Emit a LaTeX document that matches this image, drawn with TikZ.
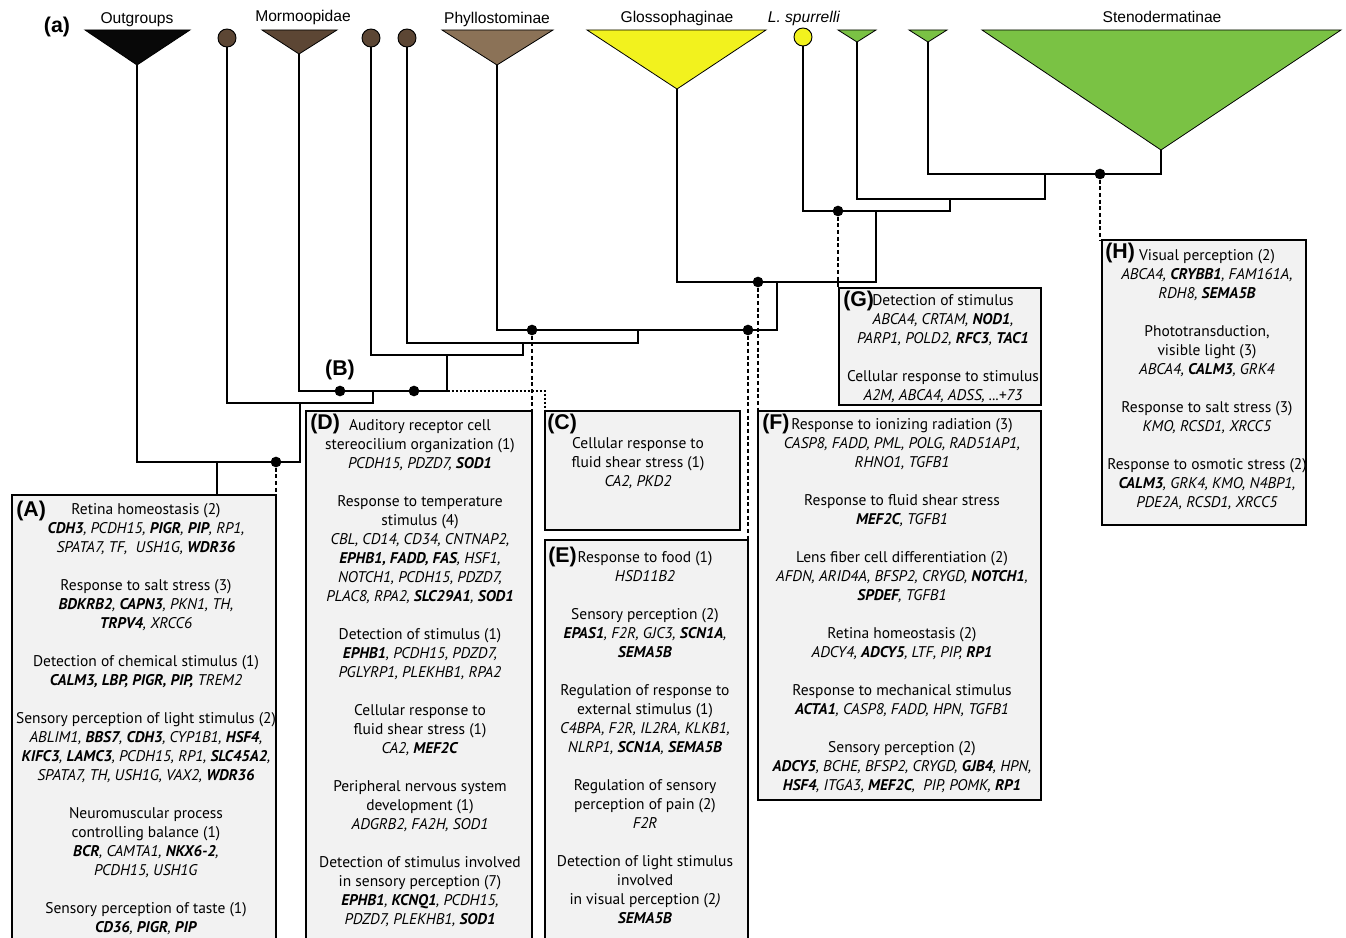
\documentclass[tikz,border=0pt]{standalone}
\usepackage{fontspec}
\setmainfont{PT Sans}
\newfontfamily\arialfont{Liberation Sans}
\usetikzlibrary{positioning}

\definecolor{cladeblack}{RGB}{8,8,8}
\definecolor{mormbrown}{RGB}{92,70,52}
\definecolor{phylbrown}{RGB}{139,114,87}
\definecolor{glossyellow}{RGB}{242,242,30}
\definecolor{stenogreen}{RGB}{122,194,68}
\definecolor{boxgray}{RGB}{242,242,242}

\newcommand{\bgene}[1]{\textbf{#1}}
\newcommand{\genes}[1]{\textit{#1}}

\begin{document}
\begin{tikzpicture}[x=0.75pt,y=-0.75pt]
	\tikzstyle{tipc}=[circle,draw=black,line width=0.7pt,minimum size=13.5pt,inner sep=0pt]
	\tikzstyle{knot}=[circle,fill=black,minimum size=8pt,inner sep=0pt]
	\tikzstyle{clade}=[draw=black,line width=0.6pt]
	\tikzstyle{branch}=[line width=1pt]
	\tikzstyle{dlink}=[line width=0.9pt,dash pattern=on 3pt off 2pt]
	\tikzstyle{plink}=[line width=0.9pt,dash pattern=on 1.5pt off 1.5pt]
	\tikzstyle{gobox}=[draw=black,line width=1.1pt,fill=boxgray,inner sep=0pt,outer sep=0pt,anchor=north west]
	\tikzstyle{gotext}=[align=center,inner sep=0pt,anchor=north,font=\fontsize{11.6}{14.25}\selectfont]
	\tikzstyle{boxlabel}=[font=\arialfont\bfseries\fontsize{16}{16}\selectfont,inner sep=0pt,anchor=north west]
	\tikzstyle{cladelabel}=[font=\arialfont\fontsize{11.7}{14}\selectfont,inner sep=0pt,anchor=base]

	\clip (0,0) rectangle (1346,938);

	% clade names
	\node[boxlabel,anchor=base] (lbl-a) at (57,33) {(a)};
	\node[cladelabel] (lbl-out) at (137,24) {Outgroups};
	\node[cladelabel] (lbl-mor) at (303,22) {Mormoopidae};
	\node[cladelabel] (lbl-phy) at (497,24) {Phyllostominae};
	\node[cladelabel] (lbl-glo) at (677,23) {Glossophaginae};
	\node[cladelabel] (lbl-spu) at (804,23) {\textit{L. spurrelli}};
	\node[cladelabel] (lbl-ste) at (1162,23) {Stenodermatinae};

	% collapsed clades and single tips
	\filldraw[clade,fill=cladeblack] (85,30) -- (190,30) -- (137,65) -- cycle;
	\filldraw[clade,fill=mormbrown] (262,30) -- (337,30) -- (299,54) -- cycle;
	\filldraw[clade,fill=phylbrown] (442,30) -- (553,30) -- (497,65) -- cycle;
	\filldraw[clade,fill=glossyellow] (587,30) -- (766,30) -- (677,89) -- cycle;
	\filldraw[clade,fill=stenogreen] (838,30) -- (876,30) -- (857,42) -- cycle;
	\filldraw[clade,fill=stenogreen] (909,30) -- (947,30) -- (928,42) -- cycle;
	\filldraw[clade,fill=stenogreen] (982,30) -- (1341,30) -- (1161,150) -- cycle;
	\coordinate (out) at (137,65);
	\coordinate (mo) at (299,54);
	\coordinate (ph) at (497,65);
	\coordinate (gl) at (677,89);
	\coordinate (s1) at (857,42);
	\coordinate (s2) at (928,42);
	\coordinate (sd) at (1161,150);
	\node[tipc,fill=mormbrown] (m1) at (227,38) {};
	\node[tipc,fill=mormbrown] (m2) at (371,38) {};
	\node[tipc,fill=mormbrown] (m3) at (407,38) {};
	\node[tipc,fill=glossyellow] (ls) at (803,37) {};

	% inner nodes
	\coordinate (n1) at (1045,174);
	\coordinate (n2) at (950,199);
	\coordinate (n3) at (876,211);
	\coordinate (n4) at (777,282);
	\coordinate (n5) at (638,330);
	\coordinate (n6) at (523,343);
	\coordinate (n7) at (447,355);
	\coordinate (n8) at (373,391);
	\coordinate (n9) at (300,403);
	\coordinate (n10) at (217,462);

	% boxes
	\node[gobox,minimum width=198pt,minimum height=334pt] (boxA) at (12,495) {};
	\node[gobox,minimum width=169.5pt,minimum height=397pt] (boxD) at (306,411) {};
	\node[gobox,minimum width=146.25pt,minimum height=89.25pt] (boxC) at (545,411) {};
	\node[gobox,minimum width=152.25pt,minimum height=300pt] (boxE) at (545,540) {};
	\node[gobox,minimum width=212.25pt,minimum height=291.75pt] (boxF) at (758,411) {};
	\node[gobox,minimum width=151.5pt,minimum height=87.75pt] (boxG) at (839,288) {};
	\node[gobox,minimum width=153pt,minimum height=213.75pt] (boxH) at (1102,240) {};

	% tree
	\draw[branch] (out) |- (n10) -| (n9);
	\draw[branch] (m1) |- (n9) -| (n8);
	\draw[branch] (mo) |- (n8) -| (n7);
	\draw[branch] (m2) |- (n7) -| (n6);
	\draw[branch] (m3) |- (n6) -| (n5);
	\draw[branch] (ph) |- (n5) -| (n4);
	\draw[branch] (gl) |- (n4) -| (n3);
	\draw[branch] (ls) |- (n3) -| (n2);
	\draw[branch] (s1) |- (n2) -| (n1);
	\draw[branch] (s2) |- (n1) -| (sd);
	\draw[branch] (n10) -- (n10 |- boxA.north);

	% enriched nodes
	\node[knot] (knot-A) at (276,462) {};
	\node[knot] (knot-B) at (340,391) {};
	\node[knot] (knot-C) at (414,391) {};
	\node[knot] (knot-D) at (532,330) {};
	\node[knot] (knot-E) at (748,330) {};
	\node[knot] (knot-F) at (758,282) {};
	\node[knot] (knot-G) at (838,211) {};
	\node[knot] (knot-H) at (1100,174) {};
	\node[boxlabel,anchor=south,above=4pt of knot-B] (lbl-B) {(B)};

	\draw[dlink] (knot-A) -- (knot-A |- boxA.north);
	\draw[plink] (knot-C) -| (boxC.north west);
	\draw[dlink] (knot-D) -- (knot-D |- boxD.north);
	\draw[dlink] (knot-E) -- (knot-E |- boxE.north);
	\draw[dlink] (knot-F) -- (knot-F |- boxF.north);
	\draw[dlink] (knot-G) -- (knot-G |- boxG.north);
	\draw[dlink] (knot-H) -- (knot-H |- boxH.north);

	% box labels
	\node[boxlabel] (lbl-A) at ([shift={(4,6)}]boxA.north west) {(A)};
	\node[boxlabel] (lbl-C) at ([shift={(2,3)}]boxC.north west) {(C)};
	\node[boxlabel] (lbl-D) at ([shift={(4,3)}]boxD.north west) {(D)};
	\node[boxlabel] (lbl-E) at ([shift={(3,7)}]boxE.north west) {(E)};
	\node[boxlabel] (lbl-F) at ([shift={(4,3)}]boxF.north west) {(F)};
	\node[boxlabel] (lbl-G) at ([shift={(4,3)}]boxG.north west) {(G)};
	\node[boxlabel] (lbl-H) at ([shift={(3,3)}]boxH.north west) {(H)};

	% GO terms
	\node[gotext] (txt-A) at (146,503) {Retina homeostasis (2)\\
		\genes{\bgene{CDH3}, PCDH15, \bgene{PIGR}, \bgene{PIP}, RP1,}\\
		\genes{SPATA7, TF,\ \ USH1G, \bgene{WDR36}}\\[14.25pt]
		Response to salt stress (3)\\
		\genes{\bgene{BDKRB2}, \bgene{CAPN3}, PKN1, TH,}\\
		\genes{\bgene{TRPV4}, XRCC6}\\[14.25pt]
		Detection of chemical stimulus (1)\\
		\genes{\bgene{CALM3, LBP, PIGR, PIP,} TREM2}\\[14.25pt]
		Sensory perception of light stimulus (2)\\
		\genes{ABLIM1, \bgene{BBS7}, \bgene{CDH3}, CYP1B1, \bgene{HSF4},}\\
		\genes{\bgene{KIFC3}, \bgene{LAMC3}, PCDH15, RP1, \bgene{SLC45A2},}\\
		\genes{SPATA7, TH, USH1G, VAX2, \bgene{WDR36}}\\[14.25pt]
		Neuromuscular process\\
		controlling balance (1)\\
		\genes{\bgene{BCR}, CAMTA1, \bgene{NKX6-2},}\\
		\genes{PCDH15, USH1G}\\[14.25pt]
		Sensory perception of taste (1)\\
		\genes{\bgene{CD36}, \bgene{PIGR}, \bgene{PIP}}};
	\node[gotext] (txt-D) at (420,419) {Auditory receptor cell\\
		stereocilium organization (1)\\
		\genes{PCDH15, PDZD7, \bgene{SOD1}}\\[14.25pt]
		Response to temperature\\
		stimulus (4)\\
		\genes{CBL, CD14, CD34, CNTNAP2,}\\
		\genes{\bgene{EPHB1, FADD, FAS}, HSF1,}\\
		\genes{NOTCH1, PCDH15, PDZD7,}\\
		\genes{PLAC8, RPA2, \bgene{SLC29A1}, \bgene{SOD1}}\\[14.25pt]
		Detection of stimulus (1)\\
		\genes{\bgene{EPHB1}, PCDH15, PDZD7,}\\
		\genes{PGLYRP1, PLEKHB1, RPA2}\\[14.25pt]
		Cellular response to\\
		fluid shear stress (1)\\
		\genes{CA2, \bgene{MEF2C}}\\[14.25pt]
		Peripheral nervous system\\
		development (1)\\
		\genes{ADGRB2, FA2H, SOD1}\\[14.25pt]
		Detection of stimulus involved\\
		in sensory perception (7)\\
		\genes{\bgene{EPHB1}, \bgene{KCNQ1}, PCDH15,}\\
		\genes{PDZD7, PLEKHB1, \bgene{SOD1}}};
	\node[gotext] (txt-C) at (638,437) {Cellular response to\\
		fluid shear stress (1)\\
		\genes{CA2, PKD2}};
	\node[gotext] (txt-E) at (645,551) {Response to food (1)\\
		\genes{HSD11B2}\\[14.25pt]
		Sensory perception (2)\\
		\genes{\bgene{EPAS1}, F2R, GJC3, \bgene{SCN1A},}\\
		\genes{\bgene{SEMA5B}}\\[14.25pt]
		Regulation of response to\\
		external stimulus (1)\\
		\genes{C4BPA, F2R, IL2RA, KLKB1,}\\
		\genes{NLRP1, \bgene{SCN1A}, \bgene{SEMA5B}}\\[14.25pt]
		Regulation of sensory\\
		perception of pain (2)\\
		\genes{F2R}\\[14.25pt]
		Detection of light stimulus\\
		involved\\
		in visual perception (2\genes{)}\\
		\genes{\bgene{SEMA5B}}};
	\node[gotext] (txt-F) at (902,418) {Response to ionizing radiation (3)\\
		\genes{CASP8, FADD, PML, POLG, RAD51AP1,}\\
		\genes{RHNO1, TGFB1}\\[14.25pt]
		Response to fluid shear stress\\
		\genes{\bgene{MEF2C}, TGFB1}\\[14.25pt]
		Lens fiber cell differentiation (2)\\
		\genes{AFDN, ARID4A, BFSP2, CRYGD, \bgene{NOTCH1},}\\
		\genes{\bgene{SPDEF}, TGFB1}\\[14.25pt]
		Retina homeostasis (2)\\
		\genes{ADCY4, \bgene{ADCY5}, LTF, PIP, \bgene{RP1}}\\[14.25pt]
		Response to mechanical stimulus\\
		\genes{\bgene{ACTA1}, CASP8, FADD, HPN, TGFB1}\\[14.25pt]
		Sensory perception (2)\\
		\genes{\bgene{ADCY5}, BCHE, BFSP2, CRYGD, \bgene{GJB4}, HPN,}\\
		\genes{\bgene{HSF4}, ITGA3, \bgene{MEF2C},\ \ PIP, POMK, \bgene{RP1}}};
	\node[gotext] (txt-G) at (943,294) {Detection of stimulus\\
		\genes{ABCA4, CRTAM, \bgene{NOD1},}\\
		\genes{PARP1, POLD2, \bgene{RFC3}, \bgene{TAC1}}\\[14.25pt]
		Cellular response to stimulus\\
		\genes{A2M, ABCA4, ADSS, ...+73}};
	\node[gotext] (txt-H) at (1207,249) {Visual perception (2)\\
		\genes{ABCA4, \bgene{CRYBB1}, FAM161A,}\\
		\genes{RDH8, \bgene{SEMA5B}}\\[14.25pt]
		Phototransduction,\\
		visible light (3)\\
		\genes{ABCA4, \bgene{CALM3}, GRK4}\\[14.25pt]
		Response to salt stress (3)\\
		\genes{KMO, RCSD1, XRCC5}\\[14.25pt]
		Response to osmotic stress (2)\\
		\genes{\bgene{CALM3}, GRK4, KMO, N4BP1,}\\
		\genes{PDE2A, RCSD1, XRCC5}};
\end{tikzpicture}
\end{document}
